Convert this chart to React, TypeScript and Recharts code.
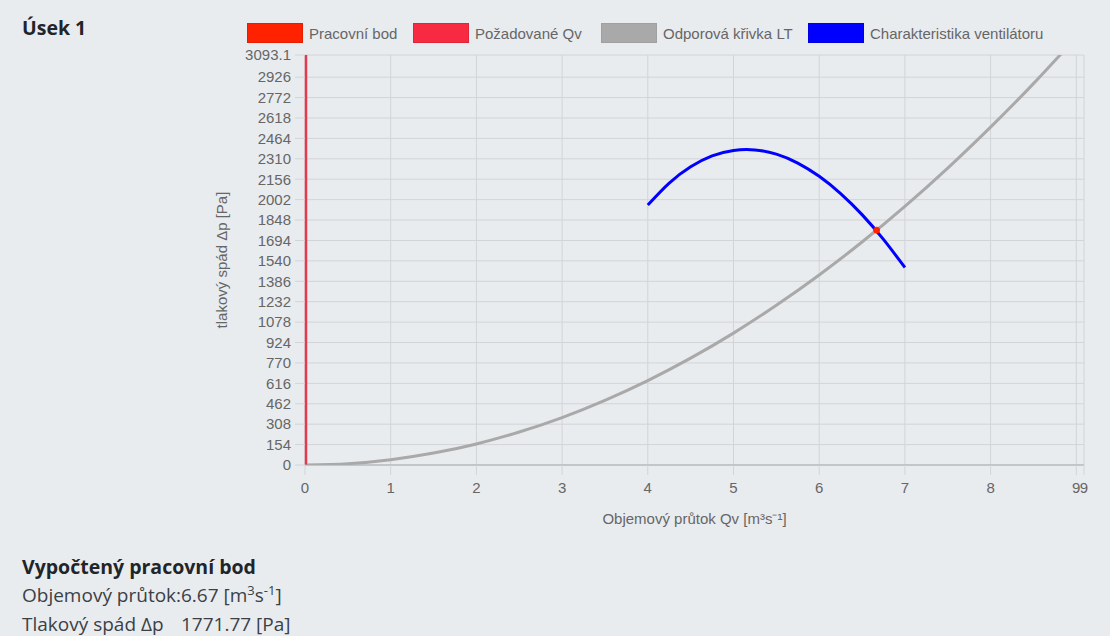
import React from 'react';
import { LineChart, Line, XAxis, YAxis, CartesianGrid, ReferenceLine } from 'recharts';

// ---- data ----
const xTicks = [0, 1, 2, 3, 4, 5, 6, 7, 8, 9, 9.09];
const xTickLabels = ['0', '1', '2', '3', '4', '5', '6', '7', '8', '9', '9'];
const yTicks = [0, 154, 308, 462, 616, 770, 924, 1078, 1232, 1386, 1540, 1694, 1848, 2002, 2156, 2310, 2464, 2618, 2772, 2926, 3093.1];

// Odporová křivka LT (resistance curve)
const resistanceQ = [0, 0.5, 1, 1.5, 2, 2.5, 3, 3.5, 4, 4.5, 5, 5.5, 6, 6.5, 7, 7.5, 8, 8.5, 9.09];
const resistanceP = [0, 10, 40, 90, 159, 249, 358, 488, 637, 806, 995, 1205, 1434, 1682, 1951, 2240, 2549, 2877, 3290];

// Charakteristika ventilátoru (fan curve)
const fanQ = [4, 4.25, 4.5, 4.75, 5, 5.25, 5.5, 5.75, 6, 6.25, 6.5, 6.75, 7];
const fanP = [1961, 2127, 2250, 2332, 2373, 2377, 2345, 2278, 2178, 2048, 1889, 1702, 1490];

// Požadované Qv (required flow – vertical line)
const requiredQ = 0;
const requiredP = [0, 3093.1];

// Pracovní bod (working point)
const workQ = [6.67];
const workP = [1771.77];

const legendItems = [
  { name: 'Pracovní bod', fill: '#ff2200', border: '#e61e00', left: 247 },
  { name: 'Požadované Qv', fill: '#f82a42', border: '#e0243a', left: 413 },
  { name: 'Odporová křivka LT', fill: '#a9a9a9', border: '#a0a0a0', left: 601 },
  { name: 'Charakteristika ventilátoru', fill: '#0000ff', border: '#0000e0', left: 808 },
];

const zip = (xs: number[], ys: number[]) => xs.map((x, i) => ({ x, y: ys[i] }));
const resistanceData = zip(resistanceQ, resistanceP);
const fanData = zip(fanQ, fanP);
const workData = zip(workQ, workP);

const chartFont = '"Liberation Sans", Arial, Helvetica, sans-serif';
const pageFont = '"Open Sans", "Noto Sans", sans-serif';
const gridColor = '#d2d4d7';

export default function App() {
  return (
    <div
      style={{
        position: 'absolute',
        left: 0,
        top: 0,
        width: 1110,
        height: 636,
        background: '#e9ecef',
        overflow: 'hidden',
        fontFamily: pageFont,
      }}
    >
      <div
        style={{
          position: 'absolute',
          left: 22,
          top: 15,
          fontSize: 19.5,
          lineHeight: '26px',
          fontWeight: 700,
          color: '#212529',
        }}
      >
        Úsek 1
      </div>

      {legendItems.map((it) => (
        <div
          key={it.name}
          style={{
            position: 'absolute',
            left: it.left,
            top: 23,
            height: 20,
            display: 'flex',
            alignItems: 'center',
            fontFamily: chartFont,
            fontSize: 15,
            color: '#666',
            whiteSpace: 'nowrap',
          }}
        >
          <span
            style={{
              display: 'inline-block',
              width: 56,
              height: 20,
              boxSizing: 'border-box',
              background: it.fill,
              border: `1px solid ${it.border}`,
              marginRight: 6,
            }}
          />
          <span>{it.name}</span>
        </div>
      ))}

      <div style={{ position: 'absolute', left: 0, top: 0 }}>
        <LineChart width={1110} height={540} margin={{ top: 55, right: 26, bottom: 15, left: 205 }}>
          <CartesianGrid stroke={gridColor} strokeWidth={1} />
          <XAxis
            type="number"
            dataKey="x"
            domain={[0, 9.09]}
            ticks={xTicks}
            interval={0}
            allowDataOverflow
            height={60}
            tickSize={10}
            tickMargin={7}
            tickLine={{ stroke: gridColor }}
            axisLine={{ stroke: '#a9abad' }}
            tick={{ fill: '#666', fontSize: 15, fontFamily: chartFont }}
            tickFormatter={(v: number) => xTickLabels[xTicks.indexOf(v)] ?? String(v)}
            label={{
              value: 'Objemový průtok Qv [m³s⁻¹]',
              position: 'center',
              dy: 24,
              fill: '#666',
              fontSize: 15,
              fontFamily: chartFont,
            }}
          />
          <YAxis
            type="number"
            dataKey="y"
            domain={[0, 3093.1]}
            ticks={yTicks}
            interval={0}
            allowDataOverflow
            width={100}
            tickSize={10}
            tickMargin={4}
            tickLine={{ stroke: gridColor }}
            axisLine={false}
            tick={{ fill: '#666', fontSize: 15, fontFamily: chartFont }}
            label={{
              value: 'tlakový spád Δp [Pa]',
              angle: -90,
              position: 'center',
              dx: -33,
              fill: '#666',
              fontSize: 15,
              fontFamily: chartFont,
            }}
          />
          <Line
            data={resistanceData}
            dataKey="y"
            type="natural"
            stroke="#a9a9a9"
            strokeWidth={3}
            dot={false}
            isAnimationActive={false}
          />
          <Line
            data={fanData}
            dataKey="y"
            type="natural"
            stroke="#0000ff"
            strokeWidth={3}
            dot={false}
            isAnimationActive={false}
          />
          <ReferenceLine
            segment={[
              { x: requiredQ, y: requiredP[0] },
              { x: requiredQ, y: requiredP[1] },
            ]}
            stroke="#e23a50"
            strokeWidth={2.5}
            ifOverflow="visible"
            transform="translate(1,0)"
          />
          <Line
            data={workData}
            dataKey="y"
            type="linear"
            stroke="none"
            dot={{ r: 3, fill: '#ff2200', stroke: '#ff2200', strokeWidth: 1 }}
            isAnimationActive={false}
          />
        </LineChart>
      </div>

      <div style={{ position: 'absolute', left: 22, top: 553, color: '#212529', fontSize: 19 }}>
        <div style={{ fontWeight: 700, fontSize: 19.5, height: 28, lineHeight: '28px' }}>Vypočtený pracovní bod</div>
        <div style={{ display: 'flex', height: 29, lineHeight: '29px', color: '#3b4045' }}>
          <span style={{ width: 159, whiteSpace: 'nowrap' }}>Objemový průtok:</span>
          <span style={{ whiteSpace: 'nowrap' }}>
            6.67 [m<sup style={{ fontSize: 13, lineHeight: 0 }}>3</sup>s<sup style={{ fontSize: 13, lineHeight: 0 }}>-1</sup>]
          </span>
        </div>
        <div style={{ display: 'flex', height: 29, lineHeight: '29px', color: '#3b4045' }}>
          <span style={{ width: 159, whiteSpace: 'nowrap' }}>Tlakový spád Δp</span>
          <span style={{ whiteSpace: 'nowrap' }}>1771.77 [Pa]</span>
        </div>
      </div>
    </div>
  );
}
